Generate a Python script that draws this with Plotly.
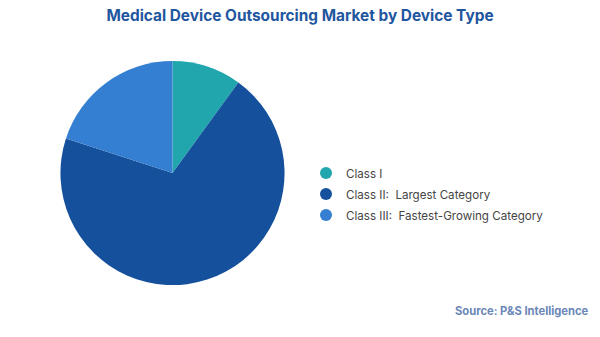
import plotly.graph_objects as go

categories = ["Class I", "Class II:  Largest Category", "Class III:  Fastest-Growing Category"]
values = [10, 70, 20]
colors = ["#21a6ad", "#15509c", "#347fd1"]

fig = go.Figure()
fig.add_trace(go.Pie(
    labels=categories, values=values, sort=False, direction="clockwise", rotation=0,
    marker=dict(colors=colors, line=dict(width=0)),
    textinfo="none", hoverinfo="label+percent", showlegend=False,
    domain=dict(x=[0.1, 0.475], y=[0.154, 0.819]),
))
for i, (c, col) in enumerate(zip(categories, colors)):
    fig.add_trace(go.Scatter(x=[None], y=[None], mode="markers", name=c,
                             legendgroup=f"g{i}",
                             marker=dict(symbol="circle", size=10, color=col)))

fig.update_layout(
    width=600, height=337,
    margin=dict(l=0, r=0, t=0, b=0),
    paper_bgcolor="white", plot_bgcolor="white",
    font=dict(family="Inter, Open Sans, sans-serif", color="#444444"),
    xaxis=dict(visible=False), yaxis=dict(visible=False),
    title=dict(text="<b>Medical Device Outsourcing Market by Device Type</b>",
               x=0.5, xanchor="center", y=0.955, yanchor="middle",
               font=dict(size=15.4, color="#1f56a0")),
    legend=dict(x=0.51, y=0.424, xanchor="left", yanchor="middle",
                font=dict(size=11.6, color="#444444"), itemsizing="constant",
                tracegroupgap=2, bgcolor="rgba(0,0,0,0)"),
    annotations=[dict(text="<b>Source: P&S Intelligence</b>", xref="paper", yref="paper",
                      x=0.985, y=0.077, xanchor="right", yanchor="middle", showarrow=False,
                      font=dict(size=11.2, color="#6b87b8"))],
)
fig.write_html("out.html")
